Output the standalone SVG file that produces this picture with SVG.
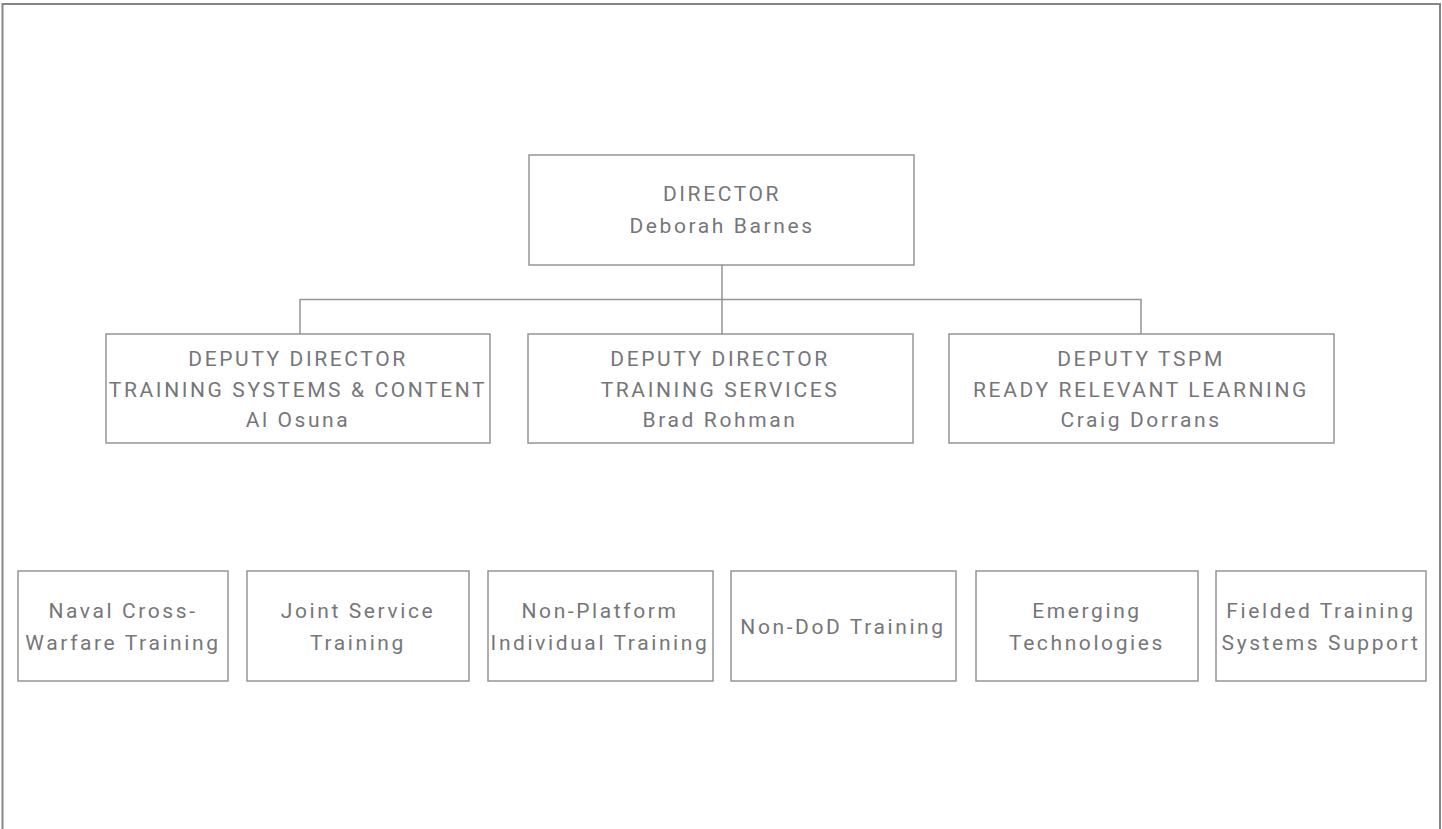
<svg xmlns="http://www.w3.org/2000/svg" width="1442" height="829" viewBox="0 0 1442 829">
<style>
.box{fill:#fff;stroke:#959595;stroke-width:1.5}
.t{font-family:Roboto,"Liberation Sans",sans-serif;font-size:21px;fill:#76767a;letter-spacing:2.6px;text-anchor:middle}
.c{fill:none;stroke:#959595;stroke-width:1.5}
</style>
<rect width="1442" height="829" fill="#fff"/>
<path d="M2.5 829 V4 H1440 V829" fill="none" stroke="#858585" stroke-width="2"/>
<g id="connectors">
<path class="c" d="M722 265 V334"/>
<path class="c" d="M300 334 V299.5 H1141 V334"/>
</g>
<g id="director">
<rect class="box" x="529" y="155" width="385" height="110"/>
<text class="t" x="722" y="201">DIRECTOR</text>
<text class="t" x="722" y="233">Deborah Barnes</text>
</g>
<g id="deputy-tsc">
<rect class="box" x="106" y="334" width="384" height="109"/>
<text class="t" x="298" y="366">DEPUTY DIRECTOR</text>
<text class="t" x="298" y="397">TRAINING SYSTEMS &amp; CONTENT</text>
<text class="t" x="298" y="427">Al Osuna</text>
</g>
<g id="deputy-ts">
<rect class="box" x="528" y="334" width="385" height="109"/>
<text class="t" x="720" y="366">DEPUTY DIRECTOR</text>
<text class="t" x="720" y="397">TRAINING SERVICES</text>
<text class="t" x="720" y="427">Brad Rohman</text>
</g>
<g id="deputy-rrl">
<rect class="box" x="949" y="334" width="385" height="109"/>
<text class="t" x="1141" y="366">DEPUTY TSPM</text>
<text class="t" x="1141" y="397">READY RELEVANT LEARNING</text>
<text class="t" x="1141" y="427">Craig Dorrans</text>
</g>
<g id="naval">
<rect class="box" x="18" y="571" width="210" height="110"/>
<text class="t" x="123" y="618">Naval Cross-</text>
<text class="t" x="123" y="650">Warfare Training</text>
</g>
<g id="joint">
<rect class="box" x="247" y="571" width="222" height="110"/>
<text class="t" x="358" y="618">Joint Service</text>
<text class="t" x="358" y="650">Training</text>
</g>
<g id="nonplatform">
<rect class="box" x="488" y="571" width="225" height="110"/>
<text class="t" x="600" y="618">Non-Platform</text>
<text class="t" x="600" y="650">Individual Training</text>
</g>
<g id="nondod">
<rect class="box" x="731" y="571" width="225" height="110"/>
<text class="t" x="843" y="634">Non-DoD Training</text>
</g>
<g id="emerging">
<rect class="box" x="976" y="571" width="222" height="110"/>
<text class="t" x="1087" y="618">Emerging</text>
<text class="t" x="1087" y="650">Technologies</text>
</g>
<g id="fielded">
<rect class="box" x="1216" y="571" width="210" height="110"/>
<text class="t" x="1321" y="618">Fielded Training</text>
<text class="t" x="1321" y="650">Systems Support</text>
</g>
</svg>
